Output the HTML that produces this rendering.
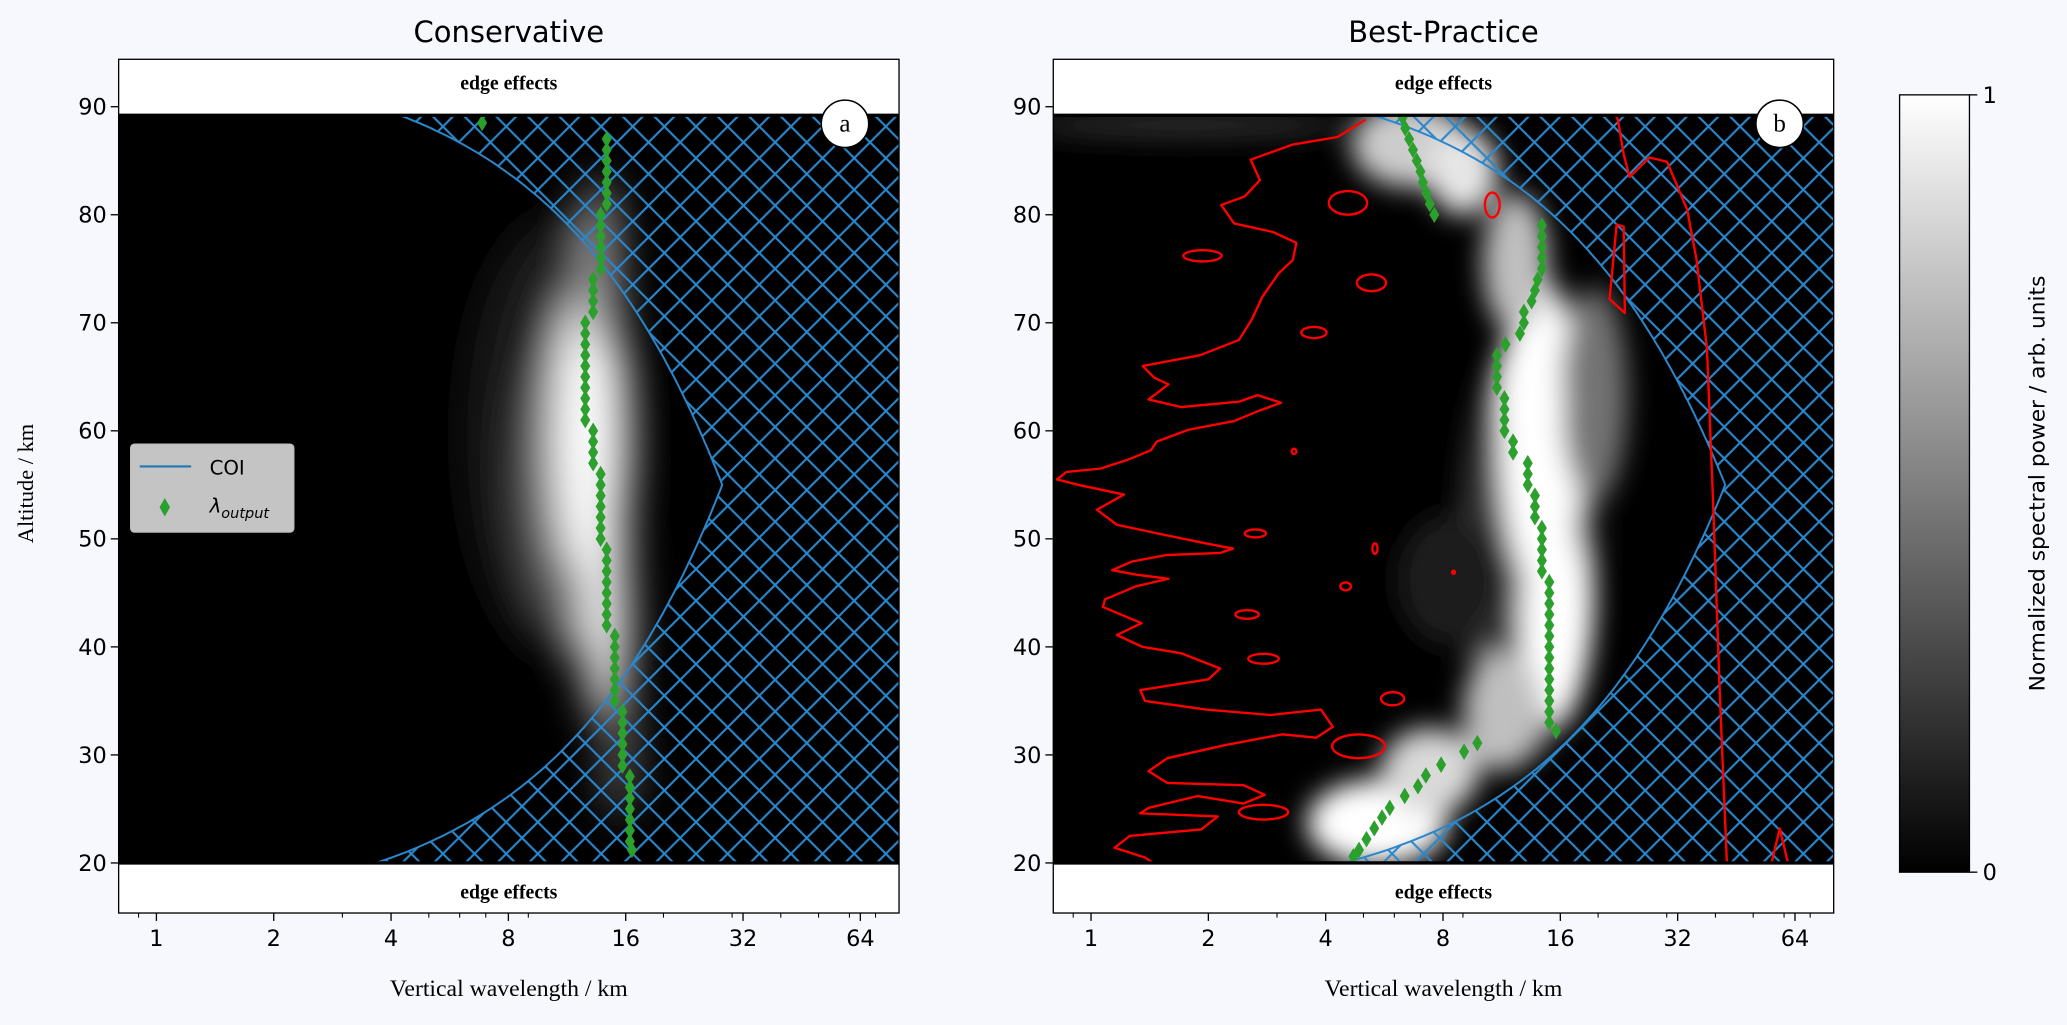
<!DOCTYPE html>
<html><head><meta charset="utf-8"><style>
html,body{margin:0;padding:0;background:#f7f8fe;}
svg{display:block;}
text{font-family:"DejaVu Sans","Liberation Sans",sans-serif;}
.serif{font-family:"Liberation Serif","DejaVu Serif",serif;}
</style></head><body>
<svg id="fig" width="2067" height="1025" viewBox="0 0 1568 778" preserveAspectRatio="none" xmlns="http://www.w3.org/2000/svg">
<defs>
<pattern id="hatch" patternUnits="userSpaceOnUse" width="24" height="24">
<path d="M0,0 L24,24 M24,0 L0,24 M-3,21 L3,27 M21,-3 L27,3 M-3,3 L3,-3 M21,27 L27,21" stroke="#2b87cc" stroke-width="1.6" fill="none"/>
</pattern>
<filter id="blura" x="-50%" y="-50%" width="200%" height="200%"><feGaussianBlur stdDeviation="16"/></filter>
<filter id="blurb" x="-50%" y="-50%" width="200%" height="200%"><feGaussianBlur stdDeviation="10"/></filter>
<linearGradient id="cbar" x1="0" y1="0" x2="0" y2="1"><stop offset="0" stop-color="#fff"/><stop offset="1" stop-color="#000"/></linearGradient>
<clipPath id="clipA"><rect x="90" y="87.5" width="592" height="567.5"/></clipPath>
<clipPath id="clipB"><rect x="799" y="87.5" width="592" height="567.5"/></clipPath>
</defs>
<g id="root"></g>
</svg>
<script>
// ---- data ----
const altTicks = [20,30,40,50,60,70,80,90];
const lamTicks = [1,2,4,8,16,32,64];
const lamMinor = [0.8,0.9,3,5,6,7,9,20,30,40,50,60,70];
// green diamonds panel a
const aAlt = [88.5,87,86,85,84,83,82,81,80,79,78,77,76,75,74,73,72,71,70,69,68,67,66,65,64,63,62,61,60,59,58,57,56,55,54,53,52,51,50,49,48,47,46,45,44,43,42,41,40,39,38,37,36,35,34,33,32,31,30,29,28,27,26,25,24,23,22,21.2];
const aLam = [6.85,14.3,14.3,14.3,14.3,14.3,14.3,14.3,13.8,13.8,13.8,13.8,13.8,13.8,13.2,13.2,13.2,13.2,12.6,12.6,12.6,12.6,12.6,12.6,12.6,12.6,12.6,12.6,13.2,13.2,13.2,13.2,13.8,13.8,13.8,13.8,13.8,13.8,13.8,14.3,14.3,14.3,14.3,14.3,14.3,14.3,14.3,15.0,15.0,15.0,15.0,15.0,15.0,15.0,15.7,15.7,15.7,15.7,15.7,15.7,16.4,16.4,16.4,16.4,16.4,16.4,16.4,16.6];
// green diamonds panel b
const bAlt = [89,88,87,86,85,84,83,82,81,80, 79,78,77,76,75,74,73,72,71,70,69,68,67,66,65,64,63,62,61,60,59,58,57,56,55,54,53,52,51,50,49,48,47,46,45,44,43,42,41,40,39,38,37,36,35,34,33,32.2, 31.1,30.3,29.1,28.1,27.1,26.2,25.1,24.2,23.2,22.2,21.2,20.6];
const bLam = [6.3,6.4,6.55,6.7,6.85,7.0,7.1,7.25,7.4,7.6, 14.35,14.35,14.35,14.35,14.35,14.0,13.77,13.5,12.9,12.9,12.6,11.57,11.0,11.0,11.0,11.0,11.5,11.5,11.5,11.5,12.1,12.1,13.2,13.2,13.2,13.77,13.77,13.77,14.35,14.35,14.35,14.35,14.35,14.99,14.99,14.99,14.99,14.99,14.99,14.99,14.99,14.99,14.99,14.99,14.99,14.99,14.99,15.6, 9.8,9.06,7.91,7.23,6.9,6.38,5.84,5.58,5.33,5.09,4.87,4.71];
// red contour (log2 wavelength, altitude), panel b
const cMainOct = [2.34,2.10,1.72,1.36,1.44,1.31,1.11,1.22,1.55,1.75,1.72,1.60,1.46,1.37,1.26,0.93,0.44,0.54,0.66,0.49,0.77,1.26,1.42,1.62,1.42,1.22,0.83,0.56,0.51,0.31,0.08,-0.21,-0.29,-0.11,0.28,0.05,0.22,0.61,0.97,1.21,1.10,0.64,0.35,0.18,0.38,0.66,0.38,0.12,0.10,0.43,0.22,0.44,0.77,1.10,1.00,0.42,0.46,0.98,1.53,1.96,2.06,1.92,1.63,1.14,0.65,0.49,0.65,1.30,1.48,1.30,0.91,0.49,0.42,1.08,0.94,0.33,0.20,0.46,0.53];
const cMainAlt = [88.8,87.2,86.5,85.1,83.2,81.7,80.9,79.2,78.4,77.4,75.8,74.6,72.4,70.3,68.4,67.0,66.0,64.9,64.3,62.9,62.2,62.7,63.3,62.6,61.8,60.9,60.1,59.0,58.2,57.3,56.5,56.2,55.5,55.0,54.1,52.7,51.3,50.4,49.6,49.1,48.7,48.5,47.9,47.1,46.7,46.3,45.6,44.4,43.7,42.2,41.1,40.0,39.4,38.0,37.0,36.0,35.0,34.2,33.7,34.2,32.6,31.6,31.9,30.9,29.7,28.5,27.4,27.2,26.3,25.5,26.2,25.1,24.6,24.3,23.1,22.5,21.4,20.5,20.0];
const cRightOct = [4.47,4.49,4.54,4.59,4.76,4.91,5.08,5.16,5.25,5.30,5.36,5.42];
const cRightAlt = [89.2,88.8,85.6,83.5,85.3,84.9,80.5,75.9,67.6,53.8,35.4,20.0];
const cSmallOct = [4.48,4.42,4.55,4.54,4.48];
const cSmallAlt = [79.1,72.2,70.9,78.9,79.1];
const cCornerOct = [5.80,5.87,5.94];
const cCornerAlt = [20.0,23.2,20.0];
// closed contour loops: [log2 wavelength, altitude, radius octaves, radius km]
const loopOct = [2.19,0.95,2.39,1.90,1.73,1.40,2.42,2.17,1.33,1.47,2.57,2.28,1.47,3.42,3.09];
const loopAlt = [81.1,76.2,73.7,69.1,58.1,50.5,49.1,45.6,43.0,38.9,35.2,30.8,24.7,80.9,46.9];
const loopRo  = [.163,.163,.124,.108,.02,.09,.022,.045,.10,.13,.098,.225,.21,.063,.012];
const loopRa  = [1.09,.52,.77,.52,.25,.37,.49,.37,.40,.46,.61,1.1,.68,1.15,.15];
// power blobs: [log2 wavelength, altitude, radius oct, radius km, intensity]
const blobAOct = [3.40,3.55,3.66,3.83,3.78,3.95];
const blobAAlt = [59.6,55,59.6,42.6,75.5,30];
const blobARo = [.75,.45,.28,.2,.16,.15];
const blobARa = [20,14,13.4,9.5,8,6];
const blobAI = [0.12,0.35,1.0,0.95,0.6,0.35];
const blobBOct = [3.75,3.84,3.96,3.62,2.72,2.44,2.89,3.51,3.06,0.81,4.29,3.17,3.75];
const blobBAlt = [50,59.6,42.6,75.5,86.5,23.7,28.5,34,46.2,88.3,63.3,84,62];
const blobBRo = [.6,.36,.3,.28,.5,.6,.42,.34,.45,1.35,.28,.3,.28];
const blobBRa = [20,14.5,9.5,6.5,4,4,4,5.5,6.1,1.2,10,4,8];
const blobBI = [0.22,1.0,1.0,0.75,0.8,1.0,0.85,0.75,0.12,0.18,0.45,0.9,1.0];
// COI parameters
const coiA = {c:0.704, top:95.2, bot:14.8};
const coiB = {c:1.084, top:94.1, bot:15.9};

// ---- scales ----
const NS='http://www.w3.org/2000/svg';
const root=document.getElementById('root');
const PX_OCT=89, LOGMIN=Math.log2(0.8);
const yS = z => 81 + (90 - z) * 8.2;
const oS = (left,o) => left + (o - LOGMIN) * PX_OCT;
const xS = (left,l) => oS(left, Math.log2(l));
function el(tag,attrs,parent){const e=document.createElementNS(NS,tag);for(const k in attrs)e.setAttribute(k,attrs[k]);(parent||root).appendChild(e);return e;}
function txt(s,attrs,parent){const e=el('text',attrs,parent);e.textContent=s;return e;}

function panel(key,left,title,coi,dAlt,dLam,bo,ba,bro,bra,bi){
  const g=el('g',{});
  
  
  const right=left+592;
  const ax=el('rect',{x:left,y:45,width:592,height:648,fill:'#fff'},g);
  
  
  const cg=el('g',{'clip-path':'url(#clip'+key.toUpperCase()+')'},g);
  const bg=el('rect',{x:left,y:87.5,width:592,height:567.5,fill:'#000'},cg);
  
  
  const hg=el('g',{filter:'url(#blur'+key+')'},cg);
  for(let i=0;i<bo.length;i++){
    const v=Math.round(255*bi[i]);
    const e=el('ellipse',{cx:oS(left,bo[i]),cy:yS(ba[i]),rx:bro[i]*PX_OCT,ry:bra[i]*8.2,fill:'rgb('+v+','+v+','+v+')'},hg);
    
    
  }
  let pts=[];
  for(let z=89.25; z>=19.99; z-=0.25){
    const lam=coi.c*Math.min(coi.top-z, z-coi.bot);
    pts.push([xS(left,lam),yS(z)]);
  }
  const line=pts.map((p,i)=>(i?'L':'M')+p[0].toFixed(1)+','+p[1].toFixed(1)).join(' ');
  const hp=el('path',{d:line+' L'+(right+5)+','+yS(19.9)+' L'+(right+5)+','+yS(89.4)+' Z',fill:'url(#hatch)'},cg);
  
  
  const cp=el('path',{d:line,fill:'none',stroke:'#2b87cc','stroke-width':1.5},cg);
  
  
  if(key==='b') drawContours(cg,left);
  for(let i=0;i<dAlt.length;i++){
    const x=xS(left,dLam[i]), y=yS(dAlt[i]);
    const d=el('path',{d:`M${x},${y-6.3} L${x+3.8},${y} L${x},${y+6.3} L${x-3.8},${y} Z`,fill:'#2ca02c'},cg);
    
    
  }
  el('line',{x1:left,y1:87.5,x2:right,y2:87.5,stroke:'#000','stroke-width':2.5},g);
  el('line',{x1:left,y1:655,x2:right,y2:655,stroke:'#000','stroke-width':2.5},g);
  const et=txt('edge effects',{x:left+296,y:68,'text-anchor':'middle','font-size':15,'font-weight':'bold',class:'serif'},g);
  
  
  const eb=txt('edge effects',{x:left+296,y:682,'text-anchor':'middle','font-size':15,'font-weight':'bold',class:'serif'},g);
  
  
  el('rect',{x:left,y:45,width:592,height:648,fill:'none',stroke:'#000','stroke-width':1},g);
  altTicks.forEach(t=>{
    const y=yS(t);
    el('line',{x1:left-6,y1:y,x2:left,y2:y,stroke:'#000','stroke-width':1},g);
    const l=txt(String(t),{x:left-9,y:y+6,'text-anchor':'end','font-size':17},g);
    
    
  });
  lamTicks.forEach(t=>{
    const x=xS(left,t);
    el('line',{x1:x,y1:693,x2:x,y2:699,stroke:'#000','stroke-width':1},g);
    const l=txt(String(t),{x:x,y:718,'text-anchor':'middle','font-size':17},g);
    
    
  });
  lamMinor.forEach(t=>{
    const x=xS(left,t);
    if(x>left&&x<right) el('line',{x1:x,y1:693,x2:x,y2:696.5,stroke:'#000','stroke-width':0.8},g);
  });
  const xl=txt('Vertical wavelength / km',{x:left+296,y:756,'text-anchor':'middle','font-size':18,class:'serif'},g);
  
  
  const tt=txt(title,{x:left+296,y:32,'text-anchor':'middle','font-size':22},g);
  
  
  const cx=right-41, cy=94;
  const circ=el('circle',{cx:cx,cy:cy,r:18,fill:'#fff',stroke:'#000','stroke-width':1.2},g);
  
  
  txt(key,{x:cx,y:cy+6,'text-anchor':'middle','font-size':19,class:'serif'},g);
  return g;
}

function polyPath(left,os,as,close){
  return os.map((o,i)=>(i?'L':'M')+oS(left,o).toFixed(1)+','+yS(as[i]).toFixed(1)).join(' ')+(close?' Z':'');
}
function drawContours(g,left){
  const st={fill:'none',stroke:'#ff0000','stroke-width':1.8,'stroke-linejoin':'round'};
  const m=el('path',Object.assign({d:polyPath(left,cMainOct,cMainAlt,false)},st),g);
  
  
  const r=el('path',Object.assign({d:polyPath(left,cRightOct,cRightAlt,false)},st),g);
  
  
  const s=el('path',Object.assign({d:polyPath(left,cSmallOct,cSmallAlt,true)},st),g);
  
  
  const c=el('path',Object.assign({d:polyPath(left,cCornerOct,cCornerAlt,false)},st),g);
  
  
  for(let i=0;i<loopOct.length;i++){
    const e=el('ellipse',Object.assign({cx:oS(left,loopOct[i]),cy:yS(loopAlt[i]),rx:Math.max(1,loopRo[i]*PX_OCT),ry:Math.max(1,loopRa[i]*8.2)},st),g);
    
    
  }
}

panel('a',90,'Conservative',coiA,aAlt,aLam,blobAOct,blobAAlt,blobARo,blobARa,blobAI);
panel('b',799,'Best-Practice',coiB,bAlt,bLam,blobBOct,blobBAlt,blobBRo,blobBRa,blobBI);

const yt=txt('Altitude / km',{x:0,y:0,'text-anchor':'middle','font-size':17,class:'serif',transform:'translate(25,367) rotate(-90)'});



const lg=el('g',{});


el('rect',{x:99,y:337,width:124,height:67,rx:3,fill:'#cfcfcf','fill-opacity':0.95,stroke:'#bbb','stroke-width':0.8},lg);
el('line',{x1:106,y1:354,x2:145,y2:354,stroke:'#1f77b4','stroke-width':1.6},lg);
const l1=txt('COI',{x:159,y:360,'font-size':15},lg);


el('path',{d:'M125,378 L129,385 L125,392 L121,385 Z',fill:'#2ca02c'},lg);
const l2=el('text',{x:159,y:389,'font-size':15,'font-style':'italic'},lg);


l2.innerHTML='λ<tspan font-size="11" dy="4">output</tspan>';

const cb=el('rect',{x:1441,y:72,width:53,height:590,fill:'url(#cbar)',stroke:'#000','stroke-width':1});


el('line',{x1:1494,y1:72,x2:1500,y2:72,stroke:'#000'});
el('line',{x1:1494,y1:662,x2:1500,y2:662,stroke:'#000'});
const c1=txt('1',{x:1504,y:78,'font-size':17});


const c0=txt('0',{x:1504,y:668,'font-size':17});


const cl=txt('Normalized spectral power / arb. units',{x:0,y:0,'text-anchor':'middle','font-size':16.5,transform:'translate(1551,367) rotate(-90)'});


</script>
</body></html>
